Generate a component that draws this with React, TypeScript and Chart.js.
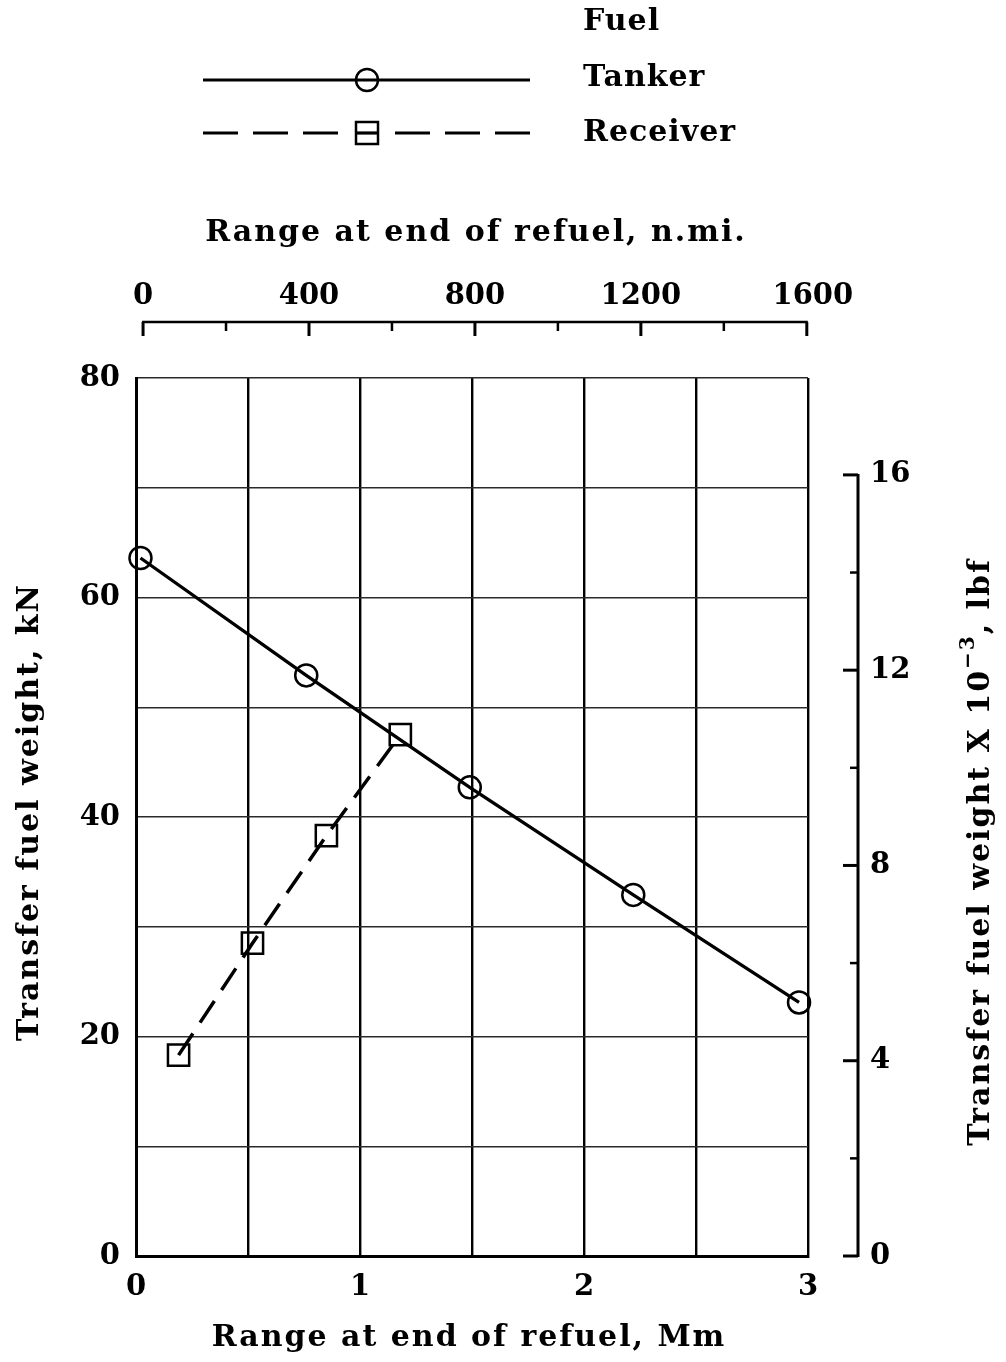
import React, { useEffect, useRef } from 'react';
import { Chart, registerables } from 'chart.js';

Chart.register(...registerables);

// ---- Data ----
const tankerRangeMm = [0.02, 0.76, 1.49, 2.22, 2.96];
const tankerFuelKN = [63.6, 52.9, 42.7, 32.9, 23.1];
const receiverRangeMm = [0.19, 0.52, 0.85, 1.18];
const receiverFuelKN = [18.3, 28.5, 38.3, 47.5];

// ---- Tick labels ----
const mmTickLabels = [0, 1, 2, 3];
const kNTickLabels = [0, 20, 40, 60, 80];
const nmiTickLabels = [0, 400, 800, 1200, 1600];
const nmiMinorTicks = [200, 600, 1000, 1400];
const lbfTickLabels = [0, 4, 8, 12, 16];
const lbfMinorTicks = [2, 6, 10, 14];

// ---- Texts ----
const bottomTitle = 'Range at end of refuel, Mm';
const topTitle = 'Range at end of refuel, n.mi.';
const leftTitle = 'Transfer fuel weight, kN';
const rightTitleMain = 'Transfer fuel weight X 10';
const rightTitleSup = '\u22123';
const rightTitleEnd = ', lbf';
const legendHeader = 'Fuel';
const legendTanker = 'Tanker';
const legendReceiver = 'Receiver';

const KN_PER_KLBF = 4.44822;
const MM_PER_NMI = 0.001852;

const FONT_FAMILY = '"DejaVu Serif", "Liberation Serif", serif';
const TICK_FONT = { family: FONT_FAMILY, size: 29, weight: 'bold' as const };

const overlayPlugin = {
  id: 'overlay',
  afterDraw(chart: any) {
    const ctx: any = chart.ctx;
    const x2 = chart.scales.x2;
    const y2 = chart.scales.y2;
    const area = chart.chartArea;
    ctx.save();
    ctx.strokeStyle = '#000';
    ctx.fillStyle = '#000';
    ctx.lineCap = 'butt';

    // Top (n.mi.) axis, detached from plot
    const topY = 322;
    ctx.lineWidth = 2.5;
    ctx.beginPath();
    ctx.moveTo(x2.getPixelForValue(0) - 1, topY);
    ctx.lineTo(x2.getPixelForValue(1600) + 1, topY);
    ctx.stroke();
    ctx.lineWidth = 3;
    for (const v of nmiTickLabels) {
      const px = x2.getPixelForValue(v);
      ctx.beginPath();
      ctx.moveTo(px, topY);
      ctx.lineTo(px, topY + 14);
      ctx.stroke();
    }
    ctx.lineWidth = 2.5;
    for (const v of nmiMinorTicks) {
      const px = x2.getPixelForValue(v);
      ctx.beginPath();
      ctx.moveTo(px, topY);
      ctx.lineTo(px, topY + 9);
      ctx.stroke();
    }
    ctx.font = `bold 29px ${FONT_FAMILY}`;
    ctx.textAlign = 'center';
    ctx.textBaseline = 'middle';
    for (const v of nmiTickLabels) {
      ctx.fillText(String(v), x2.getPixelForValue(v) + (v === 1600 ? 6 : 0), 296);
    }

    // Right (lbf) axis, detached from plot
    const rightX = 858;
    ctx.lineWidth = 3;
    ctx.beginPath();
    ctx.moveTo(rightX, y2.getPixelForValue(16) - 1);
    ctx.lineTo(rightX, y2.getPixelForValue(0) + 1);
    ctx.stroke();
    for (const v of lbfTickLabels) {
      const py = y2.getPixelForValue(v);
      ctx.beginPath();
      ctx.moveTo(rightX, py);
      ctx.lineTo(rightX - 15, py);
      ctx.stroke();
    }
    ctx.lineWidth = 2.5;
    for (const v of lbfMinorTicks) {
      const py = y2.getPixelForValue(v);
      ctx.beginPath();
      ctx.moveTo(rightX, py);
      ctx.lineTo(rightX - 8, py);
      ctx.stroke();
    }

    // Axis titles
    const font = `bold 30px ${FONT_FAMILY}`;
    const supFont = `bold 20px ${FONT_FAMILY}`;
    ctx.textBaseline = 'middle';
    ctx.letterSpacing = '2px';

    ctx.font = font;
    ctx.textAlign = 'center';
    ctx.fillText(topTitle, (area.left + area.right) / 2 + 4, 233);
    ctx.fillText(bottomTitle, (area.left + area.right) / 2 - 3, 1338);

    ctx.save();
    ctx.translate(30, 812);
    ctx.rotate(-Math.PI / 2);
    ctx.font = font;
    ctx.textAlign = 'center';
    ctx.fillText(leftTitle, 0, 0);
    ctx.restore();

    ctx.save();
    ctx.translate(981, 852);
    ctx.rotate(-Math.PI / 2);
    ctx.font = font;
    const wA = ctx.measureText(rightTitleMain).width;
    const wB = ctx.measureText(rightTitleEnd).width;
    ctx.font = supFont;
    const wS = ctx.measureText(rightTitleSup).width;
    let cx = -(wA + wS + wB) / 2;
    ctx.textAlign = 'left';
    ctx.font = font;
    ctx.fillText(rightTitleMain, cx, 0);
    cx += wA;
    ctx.font = supFont;
    ctx.fillText(rightTitleSup, cx, -12);
    cx += wS;
    ctx.font = font;
    ctx.fillText(rightTitleEnd, cx, 0);
    ctx.restore();

    // Legend
    ctx.letterSpacing = '1px';
    ctx.font = font;
    ctx.textAlign = 'left';
    ctx.fillText(legendHeader, 583, 22);
    ctx.fillText(legendTanker, 583, 78);
    ctx.fillText(legendReceiver, 583, 133);
    ctx.letterSpacing = '0px';

    // Tanker sample
    ctx.lineWidth = 3.2;
    ctx.beginPath();
    ctx.moveTo(203, 80);
    ctx.lineTo(530, 80);
    ctx.stroke();
    ctx.lineWidth = 2.5;
    ctx.beginPath();
    ctx.arc(367, 80, 11, 0, Math.PI * 2);
    ctx.stroke();

    // Receiver sample
    ctx.lineWidth = 3.2;
    ctx.setLineDash([35, 15]);
    ctx.beginPath();
    ctx.moveTo(203, 133);
    ctx.lineTo(345, 133);
    ctx.stroke();
    ctx.beginPath();
    ctx.moveTo(530, 133);
    ctx.lineTo(390, 133);
    ctx.stroke();
    ctx.setLineDash([]);
    ctx.beginPath();
    ctx.moveTo(356, 133);
    ctx.lineTo(378, 133);
    ctx.stroke();
    ctx.lineWidth = 2.5;
    ctx.strokeRect(356, 122, 22, 22);

    ctx.restore();
  },
};

export default function App() {
  const canvasRef = useRef<HTMLCanvasElement | null>(null);

  useEffect(() => {
    if (!canvasRef.current) return;
    const tankerData = tankerRangeMm.map((v, i) => ({ x: v, y: tankerFuelKN[i] }));
    const receiverData = receiverRangeMm.map((v, i) => ({ x: v, y: receiverFuelKN[i] }));

    const chart = new Chart(canvasRef.current, {
      type: 'line',
      data: {
        datasets: [
          {
            label: legendTanker,
            data: tankerData,
            borderColor: '#000',
            borderWidth: 3.3,
            pointStyle: 'circle',
            pointRadius: 11,
            pointBorderWidth: 2.5,
            pointBorderColor: '#000',
            pointBackgroundColor: 'rgba(0,0,0,0)',
            tension: 0,
            clip: false,
            xAxisID: 'x',
            yAxisID: 'y',
          },
          {
            label: legendReceiver,
            data: receiverData,
            borderColor: '#000',
            borderWidth: 3.5,
            borderDash: [26, 13],
            pointStyle: 'rect',
            pointRadius: 15,
            pointBorderWidth: 2.5,
            pointBorderColor: '#000',
            pointBackgroundColor: 'rgba(0,0,0,0)',
            tension: 0,
            clip: false,
            xAxisID: 'x',
            yAxisID: 'y',
          },
        ],
      },
      options: {
        animation: false,
        responsive: true,
        maintainAspectRatio: false,
        layout: { padding: 0 },
        plugins: {
          legend: { display: false },
          tooltip: { enabled: false },
        },
        scales: {
          x: {
            type: 'linear',
            position: 'bottom',
            min: 0,
            max: 3,
            afterFit: (s: any) => { s.height = 106; },
            ticks: {
              stepSize: 0.5,
              autoSkip: false,
              maxRotation: 0,
              padding: 14,
              color: '#000',
              font: TICK_FONT,
              callback: (v: any) => (mmTickLabels.includes(Number(v)) ? String(v) : ''),
            },
            grid: { color: '#000', lineWidth: 2.4, drawTicks: false },
            border: { color: '#000', width: 3 },
          },
          x2: {
            type: 'linear',
            position: 'top',
            min: -17,
            max: -17 + 3 / MM_PER_NMI,
            afterFit: (s: any) => { s.height = 378; },
            ticks: { display: false, stepSize: 200 },
            grid: { display: false, drawTicks: false },
            border: { display: false },
          },
          y: {
            type: 'linear',
            position: 'left',
            min: 0,
            max: 80,
            afterFit: (s: any) => { s.width = 136; },
            ticks: {
              stepSize: 10,
              autoSkip: false,
              padding: 16,
              color: '#000',
              font: TICK_FONT,
              callback: (v: any) => (kNTickLabels.includes(Number(v)) ? String(v) : ''),
            },
            grid: { color: '#2a2a2a', lineWidth: 1.4, drawTicks: false },
            border: { color: '#000', width: 3 },
          },
          y2: {
            type: 'linear',
            position: 'right',
            min: 0,
            max: 80 / KN_PER_KLBF,
            afterFit: (s: any) => { s.width = 198; },
            ticks: {
              stepSize: 2,
              includeBounds: false,
              autoSkip: false,
              padding: 62,
              color: '#000',
              font: TICK_FONT,
              callback: (v: any) => (lbfTickLabels.includes(Number(v)) ? String(v) : ''),
            },
            grid: { display: false, drawTicks: false },
            border: { display: false },
          },
        },
      },
      plugins: [overlayPlugin],
    });

    return () => chart.destroy();
  }, []);

  return (
    <div style={{ position: 'absolute', left: 0, top: 0, width: 1006, height: 1362, background: '#fff' }}>
      <canvas ref={canvasRef} />
    </div>
  );
}
